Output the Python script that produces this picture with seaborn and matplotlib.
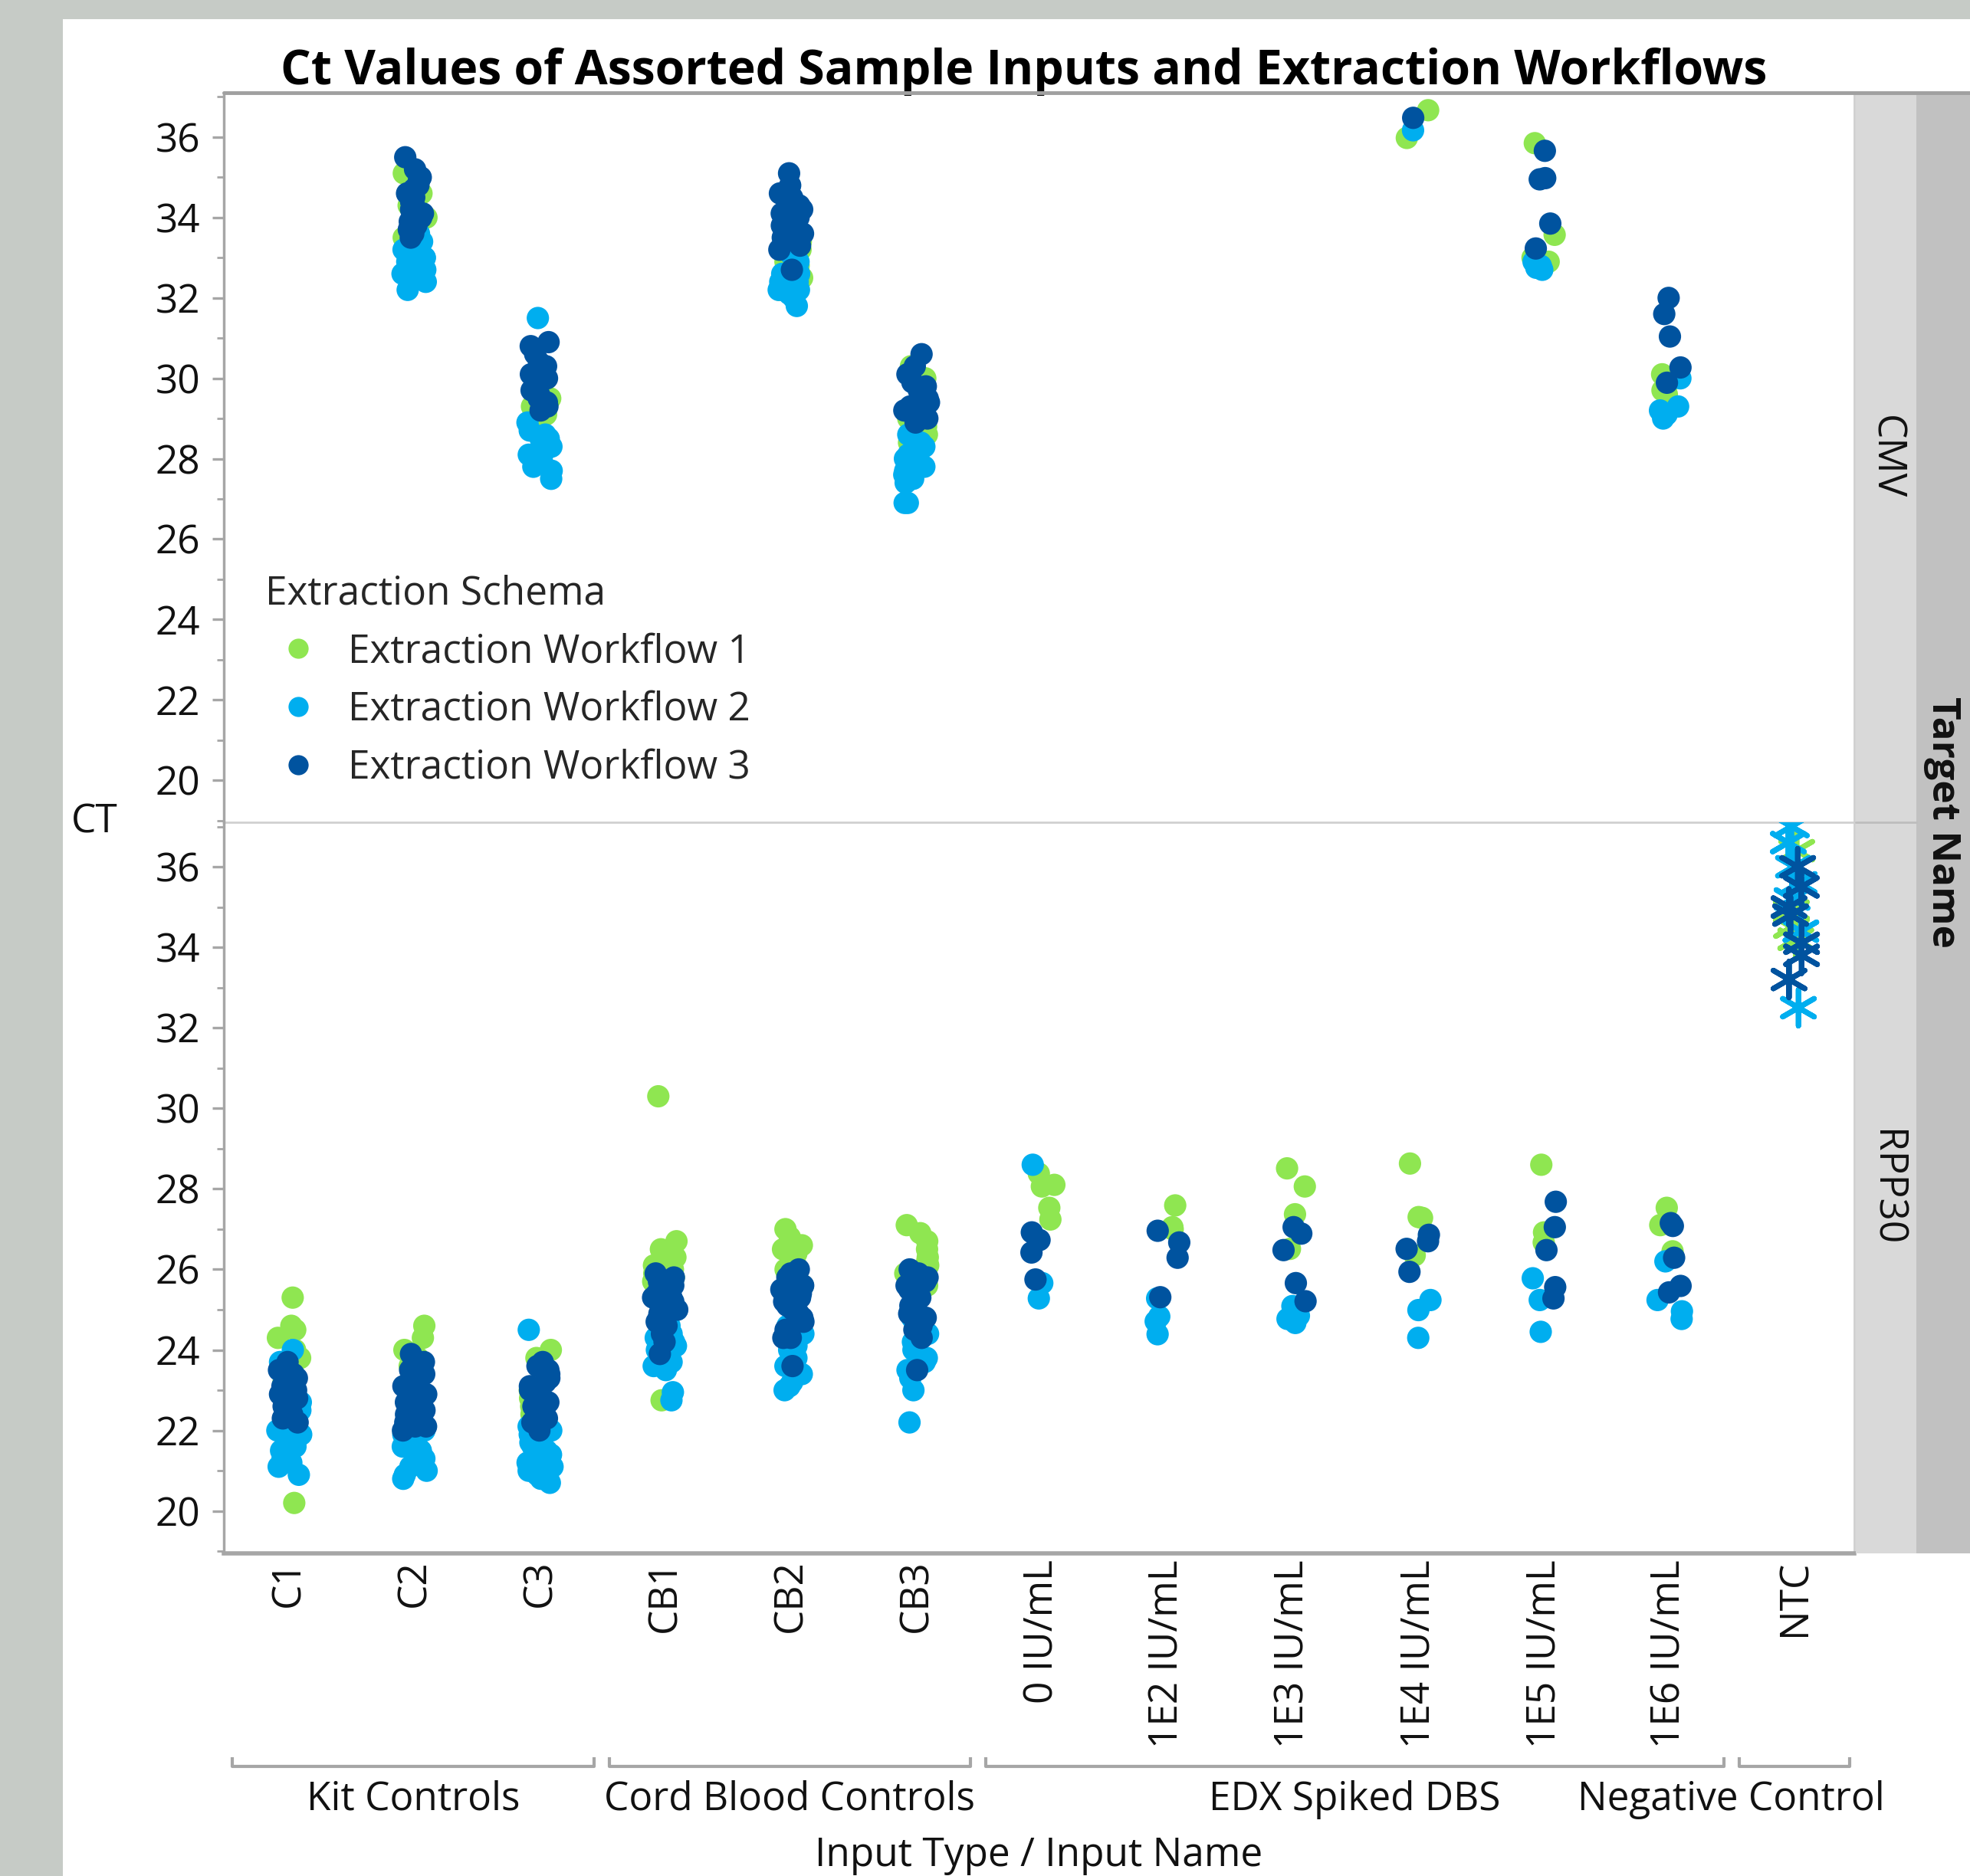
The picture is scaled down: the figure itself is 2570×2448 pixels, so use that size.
import numpy as np
import pandas as pd
import matplotlib
matplotlib.use("Agg")
import matplotlib.pyplot as plt
from matplotlib.patches import Rectangle
from matplotlib.lines import Line2D
from matplotlib.ticker import MultipleLocator
import seaborn as sns

# ---------------- data ----------------
TITLE = "Ct Values of Assorted Sample Inputs and Extraction Workflows"
INPUTS = ["C1", "C2", "C3", "CB1", "CB2", "CB3", "0 IU/mL", "1E2 IU/mL",
          "1E3 IU/mL", "1E4 IU/mL", "1E5 IU/mL", "1E6 IU/mL", "NTC"]
INPUT_TYPES = (["Kit Controls"] * 3 + ["Cord Blood Controls"] * 3 +
               ["EDX Spiked DBS"] * 6 + ["Negative Control"])
GROUPS = ["Kit Controls", "Cord Blood Controls", "EDX Spiked DBS", "Negative Control"]
TARGETS = ["CMV", "RPP30"]
WORKFLOWS = ["Extraction Workflow 1", "Extraction Workflow 2", "Extraction Workflow 3"]
COLORS = ["#8FE651", "#00AEEF", "#00539F"]
Y_TICKS = [20, 22, 24, 26, 28, 30, 32, 34, 36]

CMV_WF1 = {
    "C2": [35.1, 34.6, 34.2, 34.1, 34.0, 33.9, 33.7, 33.5, 34.3, 34.8],
    "C3": [30.0, 29.8, 29.5, 29.3, 29.1, 29.0, 28.9, 29.6, 28.7],
    "CB2": [33.4, 33.0, 32.8, 32.5, 32.2, 33.2, 32.9],
    "CB3": [30.3, 29.0, 28.8, 28.6, 28.4, 28.2, 28.6, 30.0],
    "1E4 IU/mL": [36.67, 35.98],
    "1E5 IU/mL": [35.85, 33.57, 33.0, 32.9],
    "1E6 IU/mL": [30.1, 29.8, 29.6, 29.7],
}
CMV_WF2 = {
    "C2": [33.6, 33.4, 33.3, 33.2, 33.1, 33.0, 32.9, 32.8, 32.7, 32.6, 32.5, 32.4, 32.2, 33.5, 33.0],
    "C3": [31.5, 28.9, 28.7, 28.6, 28.5, 28.4, 28.3, 28.2, 28.1, 28.0, 27.9, 27.8, 27.7, 27.5, 28.5, 28.2],
    "CB2": [33.1, 32.9, 32.7, 32.6, 32.5, 32.4, 32.3, 32.2, 32.1, 32.0, 31.8, 32.6, 32.4, 32.2],
    "CB3": [28.6, 28.4, 28.3, 28.2, 28.1, 28.0, 27.9, 27.8, 27.7, 27.6, 27.5, 27.4, 26.9, 26.9, 27.9],
    "1E4 IU/mL": [36.17],
    "1E5 IU/mL": [32.9, 32.8, 32.7, 32.75],
    "1E6 IU/mL": [30.0, 29.3, 29.2, 29.1, 29.0],
}
CMV_WF3 = {
    "C2": [35.5, 35.2, 35.0, 34.9, 34.7, 34.6, 34.5, 34.4, 34.3, 34.2, 34.1, 34.0, 33.9, 33.8,
           33.7, 33.6, 33.5, 34.8, 34.4, 34.0],
    "C3": [30.9, 30.8, 30.6, 30.4, 30.3, 30.2, 30.1, 30.0, 29.9, 29.8, 29.7, 29.6, 29.5, 29.4,
           29.3, 29.2, 29.6, 30.0],
    "CB2": [35.1, 34.8, 34.6, 34.5, 34.4, 34.3, 34.2, 34.1, 34.0, 33.9, 33.8, 33.7, 33.6, 33.5,
            33.4, 33.3, 33.2, 32.7, 34.0, 33.6],
    "CB3": [30.6, 30.3, 30.1, 29.9, 29.7, 29.5, 29.4, 29.3, 29.2, 29.1, 29.0, 28.9, 29.6, 29.8, 29.2],
    "1E4 IU/mL": [36.48],
    "1E5 IU/mL": [35.66, 34.98, 34.95, 33.85, 33.23],
    "1E6 IU/mL": [32.0, 31.6, 31.04, 30.27, 29.89],
}
RPP30_WF1 = {
    "C1": [25.3, 24.6, 24.5, 24.3, 24.0, 23.8, 23.5, 23.2, 22.9, 20.2],
    "C2": [24.6, 24.3, 24.0, 23.8, 23.6, 23.4, 23.2, 23.0],
    "C3": [24.0, 23.8, 23.5, 23.2, 23.0, 22.8, 22.6, 22.4],
    "CB1": [30.3, 26.7, 26.5, 26.3, 26.2, 26.1, 26.0, 25.9, 25.8, 25.7, 25.6, 25.4, 22.75],
    "CB2": [27.0, 26.8, 26.6, 26.5, 26.3, 26.2, 26.0, 25.8, 25.6, 25.9, 26.4],
    "CB3": [27.1, 26.9, 26.7, 26.5, 26.3, 26.2, 26.1, 25.9, 25.6],
    "0 IU/mL": [28.38, 28.06, 28.1, 27.53, 27.24],
    "1E2 IU/mL": [27.59, 27.05, 27.0],
    "1E3 IU/mL": [28.51, 28.06, 27.37, 26.51],
    "1E4 IU/mL": [28.63, 27.3, 27.28, 26.35],
    "1E5 IU/mL": [28.6, 26.92, 26.67],
    "1E6 IU/mL": [27.53, 27.1, 26.45],
    "NTC": [36.4, 34.9, 34.5, 34.2],
}
RPP30_WF2 = {
    "C1": [24.0, 23.7, 22.7, 22.5, 22.3, 22.1, 22.0, 21.9, 21.8, 21.7, 21.6, 21.5, 21.4, 21.3,
           21.2, 21.1, 20.9, 22.9],
    "C2": [22.0, 21.9, 21.8, 21.7, 21.6, 21.5, 21.4, 21.3, 21.2, 21.1, 21.0, 20.9, 20.8, 21.5, 21.8],
    "C3": [24.5, 22.1, 22.0, 21.9, 21.8, 21.7, 21.6, 21.5, 21.4, 21.3, 21.2, 21.1, 21.0, 20.9,
           20.8, 20.7, 20.8],
    "CB1": [25.0, 24.8, 24.6, 24.4, 24.3, 24.2, 24.1, 24.0, 23.9, 23.8, 23.7, 23.6, 23.5, 22.95, 22.75],
    "CB2": [24.8, 24.6, 24.4, 24.3, 24.2, 24.1, 24.0, 23.8, 23.6, 23.4, 23.2, 23.0, 23.1, 24.5],
    "CB3": [25.0, 24.8, 24.6, 24.4, 24.3, 24.2, 24.0, 23.8, 23.7, 23.5, 23.3, 23.0, 22.2, 24.5],
    "0 IU/mL": [28.6, 25.66, 25.28],
    "1E2 IU/mL": [25.28, 24.83, 24.71, 24.39],
    "1E3 IU/mL": [25.09, 24.77, 24.67, 24.85],
    "1E4 IU/mL": [25.24, 24.99, 24.3],
    "1E5 IU/mL": [25.78, 25.24, 24.45],
    "1E6 IU/mL": [26.2, 25.24, 24.96, 24.77],
    "NTC": [37.0, 36.6, 36.0, 35.6, 35.2, 34.4, 32.5],
}
RPP30_WF3 = {
    "C1": [23.7, 23.5, 23.4, 23.3, 23.2, 23.1, 23.0, 22.9, 22.8, 22.7, 22.6, 22.5, 22.4, 22.3, 22.2, 23.0],
    "C2": [23.9, 23.7, 23.5, 23.4, 23.3, 23.2, 23.1, 23.0, 22.9, 22.8, 22.7, 22.6, 22.5, 22.4,
           22.3, 22.2, 22.1, 22.1, 22.0],
    "C3": [23.7, 23.6, 23.5, 23.4, 23.3, 23.2, 23.1, 23.0, 22.9, 22.8, 22.7, 22.6, 22.5, 22.4,
           22.3, 22.2, 22.0, 23.0],
    "CB1": [25.9, 25.8, 25.7, 25.6, 25.5, 25.4, 25.3, 25.2, 25.1, 25.0, 24.9, 24.8, 24.7, 24.6,
            24.5, 24.4, 24.2, 23.9, 25.3, 25.0],
    "CB2": [26.0, 25.9, 25.8, 25.7, 25.6, 25.5, 25.4, 25.3, 25.2, 25.1, 25.0, 24.9, 24.8, 24.7,
            24.5, 24.3, 24.3, 23.6, 25.8],
    "CB3": [26.0, 25.9, 25.8, 25.7, 25.6, 25.5, 25.4, 25.3, 25.2, 25.1, 25.0, 24.9, 24.8, 24.6,
            24.5, 24.3, 23.5, 25.5],
    "0 IU/mL": [26.92, 26.73, 26.42, 25.75],
    "1E2 IU/mL": [26.96, 26.67, 26.29, 25.31],
    "1E3 IU/mL": [27.05, 26.89, 26.48, 25.66, 25.21],
    "1E4 IU/mL": [26.86, 26.51, 26.7, 25.94],
    "1E5 IU/mL": [27.68, 27.05, 26.48, 25.56, 25.28],
    "1E6 IU/mL": [27.15, 27.08, 26.29, 25.59, 25.43],
    "NTC": [36.0, 35.5, 35.0, 34.8, 34.1, 33.8, 33.2],
}
SERIES = {
    ("CMV", WORKFLOWS[0]): CMV_WF1, ("CMV", WORKFLOWS[1]): CMV_WF2, ("CMV", WORKFLOWS[2]): CMV_WF3,
    ("RPP30", WORKFLOWS[0]): RPP30_WF1, ("RPP30", WORKFLOWS[1]): RPP30_WF2, ("RPP30", WORKFLOWS[2]): RPP30_WF3,
}

rows = []
for (target, wf), d in SERIES.items():
    for inp, vals in d.items():
        for v in vals:
            rows.append({"Target": target, "Input": inp, "Workflow": wf, "CT": v})
df = pd.DataFrame(rows)

# ---------------- style ----------------
sns.set_theme(style="white")
plt.rcParams["font.family"] = ["Open Sans", "DejaVu Sans"]
plt.rcParams["axes.unicode_minus"] = False
FS = 37
GRAY = "#a6a6a6"
TXT = "#111111"

W, H = 1568.0, 1494.0
def fx(x): return x / W
def fy(y): return 1 - y / H

fig = plt.figure(figsize=(25.70, 24.48), dpi=100)
fig.patch.set_facecolor("#c6cbc6")
fig.add_artist(Rectangle((fx(50), 0), 1 - fx(50), fy(15), transform=fig.transFigure,
                         facecolor="white", edgecolor="none", zorder=0))
# right strips
fig.add_artist(Rectangle((fx(1477), fy(1237)), fx(1525) - fx(1477), fy(74) - fy(1237),
                         transform=fig.transFigure, facecolor="#d9d9d9", edgecolor="none", zorder=0.5))
fig.add_artist(Rectangle((fx(1525), fy(1237)), 1 - fx(1525), fy(74) - fy(1237),
                         transform=fig.transFigure, facecolor="#c1c1c1", edgecolor="none", zorder=0.5))
fig.add_artist(Line2D([fx(1477), fx(1525)], [fy(655), fy(655)], transform=fig.transFigure,
                      color="#bdbdbd", lw=2, zorder=0.6))
fig.add_artist(Line2D([fx(178), 1.0], [fy(74), fy(74)], transform=fig.transFigure,
                      color="#a0a0a0", lw=3.5, zorder=5))

ax_w = fx(1476) - fx(178)
ax_top = fig.add_axes([fx(178), fy(655), ax_w, fy(74) - fy(655)])
ax_bot = fig.add_axes([fx(178), fy(1237), ax_w, fy(655) - fy(1237)])

np.random.seed(7)
palette = dict(zip(WORKFLOWS, COLORS))
for ax, target in zip([ax_top, ax_bot], TARGETS):
    sub = df[(df["Target"] == target) & (df["Input"] != "NTC")]
    sns.stripplot(data=sub, x="Input", y="CT", hue="Workflow", order=INPUTS,
                  hue_order=WORKFLOWS, palette=palette, jitter=0.1, size=21,
                  linewidth=0, ax=ax, legend=(target == "CMV"), zorder=3)
    ntc = df[(df["Target"] == target) & (df["Input"] == "NTC")]
    if len(ntc):
        sns.stripplot(data=ntc, x="Input", y="CT", hue="Workflow", order=INPUTS,
                      hue_order=WORKFLOWS, palette=palette, jitter=0.06, size=34,
                      marker=(6, 2, 0), linewidth=5, ax=ax, legend=False, zorder=3)
    ax.set_xlim(-0.52, 12.47)
    ax.set_ylim(18.95, 37.1)
    ax.set_xlabel("")
    ax.set_ylabel("")
    ax.set_yticks(Y_TICKS)
    ax.yaxis.set_minor_locator(MultipleLocator(1))
    ax.tick_params(axis="y", which="major", length=11, width=2.4, color=GRAY,
                   labelsize=FS, pad=11, left=True, labelcolor=TXT)
    ax.tick_params(axis="y", which="minor", length=6.5, width=2.0, color=GRAY, left=True)
    ax.tick_params(axis="x", length=0)
    ax.spines["left"].set_color(GRAY)
    ax.spines["left"].set_linewidth(2.5)
    ax.spines["right"].set_color("#cfcfcf")
    ax.spines["right"].set_linewidth(2)
    ax.spines["top"].set_visible(False)
    ax.spines["bottom"].set_color("#d0d0d0")
    ax.spines["bottom"].set_linewidth(2)
    ax.set_facecolor("none")

ax_top.tick_params(axis="x", labelbottom=False)
ax_bot.spines["bottom"].set_color(GRAY)
ax_bot.spines["bottom"].set_linewidth(4)
ax_bot.tick_params(axis="x", labelsize=FS, pad=6, labelrotation=90, labelcolor=TXT)
for lab in ax_bot.get_xticklabels():
    lab.set_va("top")

sns.move_legend(ax_top, loc="upper left", bbox_to_anchor=(0.0254, 0.34), frameon=False,
                title="Extraction Schema", fontsize=FS, title_fontsize=FS,
                handlelength=1.7, handletextpad=0.4, labelspacing=0.48,
                borderpad=0, borderaxespad=0, alignment="left", markerscale=0.9)

# group brackets below the axis
trans = ax_bot.get_xaxis_transform()
yb = -(1407 - 1237) / 582.0
for g in GROUPS:
    idx = [i for i, t in enumerate(INPUT_TYPES) if t == g]
    x0, x1 = idx[0] - 0.45, idx[-1] + 0.43
    ax_bot.plot([x0, x0, x1, x1], [yb + 0.013, yb, yb, yb + 0.013], transform=trans,
                color=GRAY, lw=3, clip_on=False, solid_capstyle="butt")
    if g == GROUPS[-1]:
        ax_bot.text(12.71, yb - 0.045, g, transform=trans, ha="right", va="center",
                    fontsize=FS, color=TXT)
    else:
        ax_bot.text((x0 + x1) / 2, yb - 0.045, g, transform=trans, ha="center", va="center",
                    fontsize=FS, color=TXT)

fig.text(fx(827), fy(1478), "Input Type / Input Name", ha="center", va="center",
         fontsize=FS, color=TXT)
fig.text(fx(75), fy(655), "CT", ha="center", va="center", fontsize=FS, color=TXT)
fig.text(fx(815), fy(57), TITLE, ha="center", va="center", fontsize=45, fontweight="bold",
         color="black")
fig.text(fx(1501), fy(364), "CMV", ha="center", va="center", rotation=270, fontsize=FS,
         color=TXT)
fig.text(fx(1501), fy(946), "RPP30", ha="center", va="center", rotation=270, fontsize=FS,
         color=TXT)
fig.text(fx(1546), fy(655), "Target Name", ha="center", va="center", rotation=270,
         fontsize=FS, fontweight="bold", color=TXT)

fig.savefig("out.png", dpi=100, facecolor=fig.get_facecolor())
